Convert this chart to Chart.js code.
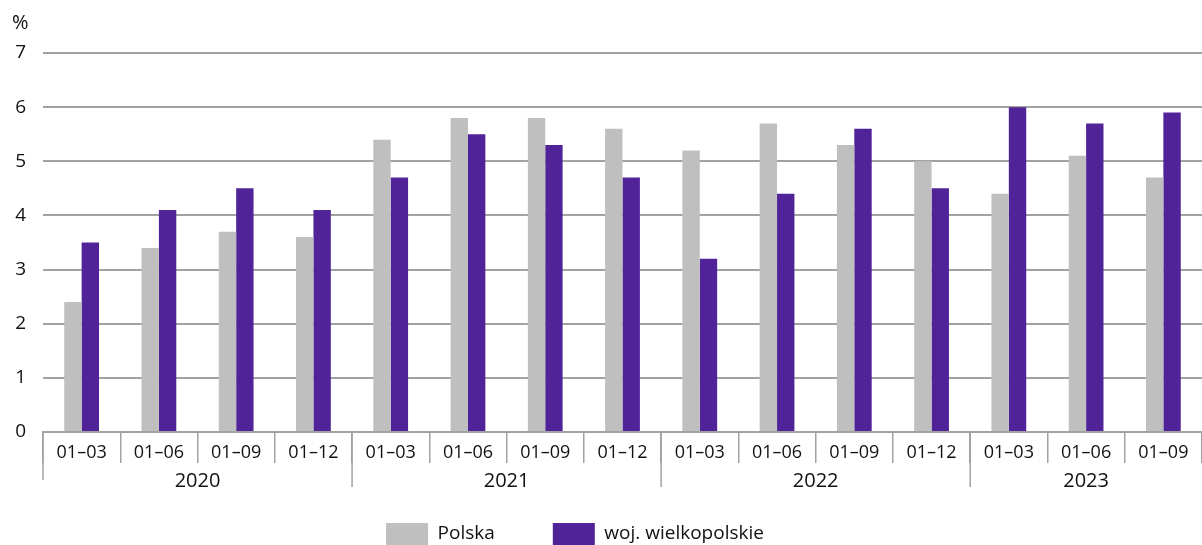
<!DOCTYPE html>
<html>
<head>
<meta charset="utf-8">
<script src="https://cdn.jsdelivr.net/npm/chart.js@4"></script>
<style>
    html, body { margin: 0; padding: 0; background: #fff; overflow: hidden; }
    #wrap { position: relative; width: 1202px; height: 555px; }
</style>
</head>
<body>
<div id="wrap"><canvas id="unemployment-chart"></canvas></div>
<script>
'use strict';

// okresy (miesiące narastająco) i lata
var periods = ['01–03', '01–06', '01–09', '01–12',
               '01–03', '01–06', '01–09', '01–12',
               '01–03', '01–06', '01–09', '01–12',
               '01–03', '01–06', '01–09'];
var years = ['2020', '2021', '2022', '2023'];
var yearSpans = [4, 4, 4, 3];

var polska = [2.4, 3.4, 3.7, 3.6, 5.4, 5.8, 5.8, 5.6, 5.2, 5.7, 5.3, 5.0, 4.4, 5.1, 4.7];
var wielkopolskie = [3.5, 4.1, 4.5, 4.1, 4.7, 5.5, 5.3, 4.7, 3.2, 4.4, 5.6, 4.5, 6.0, 5.7, 5.9];

var yTicks = [0, 1, 2, 3, 4, 5, 6, 7];

var gridColor = '#a2a2a2';
var textColor = '#111111';
var fontFamily = '"Open Sans", "Noto Sans", sans-serif';

// lata pod etykietami okresów + pionowe kreski między latami
var yearAxisPlugin = {
    id: 'yearAxis',
    afterLayout: function (chart) {
        // legenda lekko w lewo, jak w oryginale
        chart.legend.left -= 32;
        chart.legend.right -= 32;
    },
    afterDraw: function (chart) {
        var x = chart.scales.x;
        var ctx = chart.ctx;
        var half = (x.getPixelForValue(1) - x.getPixelForValue(0)) / 2;
        var start = 0;
        ctx.save();
        ctx.strokeStyle = gridColor;
        ctx.lineWidth = 1.5;
        ctx.fillStyle = textColor;
        ctx.font = '20px ' + fontFamily;
        ctx.textAlign = 'center';
        ctx.textBaseline = 'middle';
        years.forEach(function (year, i) {
            var left = x.getPixelForValue(start) - half;
            var end = start + yearSpans[i] - 1;
            ctx.beginPath();
            ctx.moveTo(left, x.top);
            ctx.lineTo(left, x.top + (i === 0 ? 48 : 55));
            ctx.stroke();
            var mid = (x.getPixelForValue(start) + x.getPixelForValue(end)) / 2;
            ctx.fillText(year, mid, x.top + 49);
            start += yearSpans[i];
        });
        ctx.restore();
    },
};

new Chart(document.getElementById('unemployment-chart'), {
    type: 'bar',
    data: {
        labels: periods,
        datasets: [
            {
                label: 'Polska',
                data: polska,
                backgroundColor: '#bfbfbf',
                borderWidth: 0,
            },
            {
                label: 'woj. wielkopolskie',
                data: wielkopolskie,
                backgroundColor: '#512399',
                borderWidth: 0,
            },
        ],
    },
    options: {
        responsive: true,
        maintainAspectRatio: false,
        animation: false,
        datasets: {
            bar: {
                categoryPercentage: 0.45,
                barPercentage: 1.0,
            },
        },
        layout: {
            padding: { left: 12, right: 0, top: 0, bottom: 0 },
        },
        plugins: {
            title: {
                display: true,
                text: '%',
                align: 'start',
                color: textColor,
                font: { family: fontFamily, size: 20, weight: 'normal' },
                padding: { top: 11, bottom: 18 },
            },
            legend: {
                position: 'bottom',
                labels: {
                    boxWidth: 42,
                    boxHeight: 22,
                    padding: 58,
                    color: textColor,
                    font: { family: fontFamily, size: 19 },
                },
            },
            tooltip: { enabled: false },
        },
        scales: {
            x: {
                afterFit: function (scale) {
                    scale.height = 33;
                },
                grid: {
                    offset: true,
                    drawOnChartArea: false,
                    drawTicks: true,
                    tickLength: 31,
                    color: gridColor,
                    lineWidth: 1.5,
                },
                border: { display: true, color: gridColor, width: 2 },
                ticks: {
                    color: textColor,
                    font: { family: fontFamily, size: 18 },
                    padding: -21,
                    maxRotation: 0,
                    autoSkip: false,
                },
            },
            y: {
                min: 0,
                max: 7,
                afterFit: function (scale) {
                    scale.width = 31;
                },
                afterBuildTicks: function (scale) {
                    scale.ticks = yTicks.map(function (v) { return { value: v }; });
                },
                grid: {
                    color: gridColor,
                    lineWidth: 2,
                    drawTicks: false,
                },
                border: { display: false },
                ticks: {
                    color: textColor,
                    font: { family: fontFamily, size: 19 },
                    padding: 17,
                },
            },
        },
    },
    plugins: [yearAxisPlugin],
});
</script>
</body>
</html>
